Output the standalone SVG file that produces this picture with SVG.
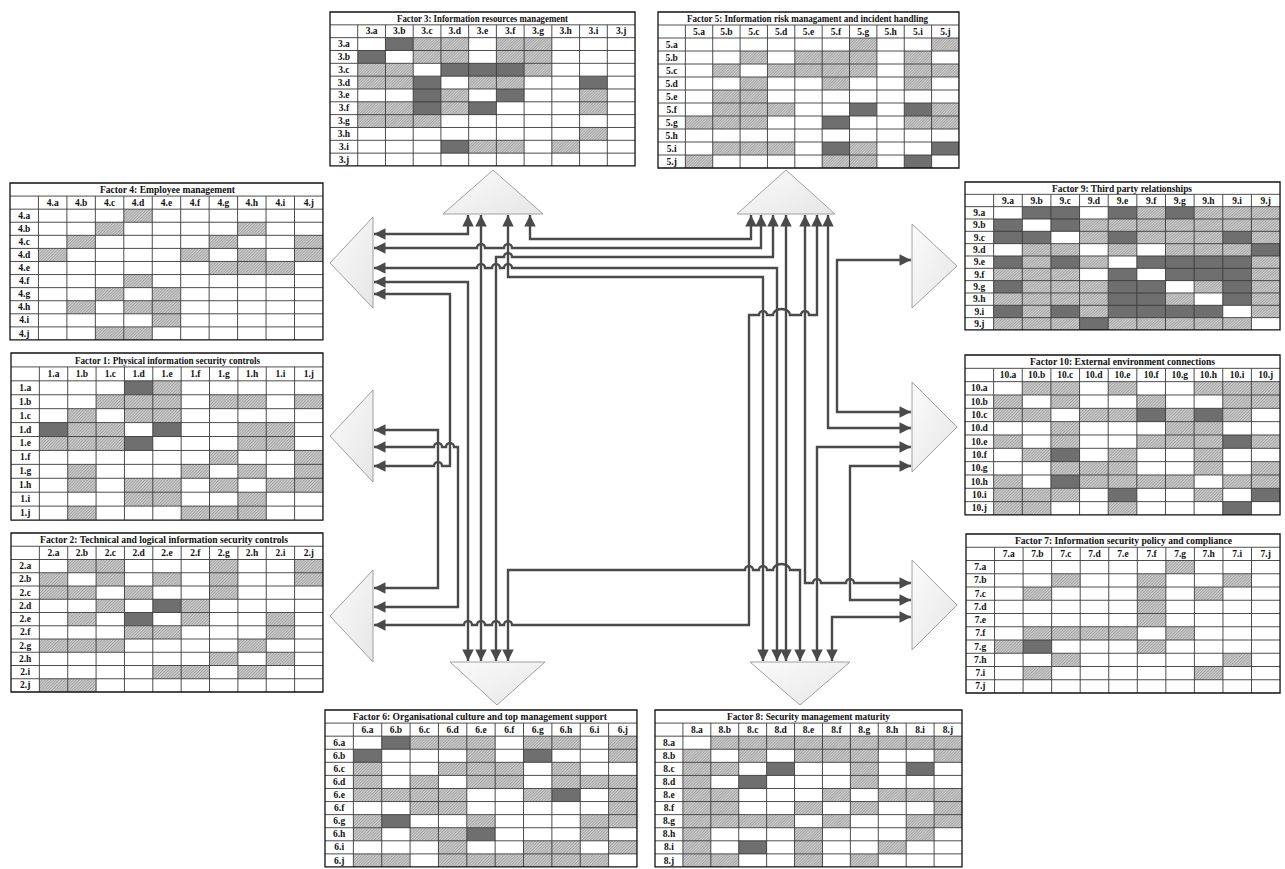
<svg xmlns="http://www.w3.org/2000/svg" width="1285" height="869" viewBox="0 0 1285 869">
<style>
.tt{font-family:"Liberation Serif","Times New Roman",serif;font-weight:bold;font-size:10.5px;text-anchor:middle;dominant-baseline:central;fill:#111}
.lb text{font-family:"Liberation Serif","Times New Roman",serif;font-weight:bold;font-size:9.5px;text-anchor:middle;dominant-baseline:central;fill:#111}
.h{fill:url(#hp)}
.d{fill:#6f6f6f}
.tri{fill:url(#tg);stroke:#a0a0a0;stroke-width:1}
.cn{fill:none;stroke:#4a4a4a;stroke-width:2.4;marker-start:url(#ah);marker-end:url(#ah)}
</style>
<defs>
<pattern id="hp" patternUnits="userSpaceOnUse" width="2" height="2" patternTransform="scale(0.0355,0.0765) rotate(45)"><rect width="2" height="2" fill="#cdcdcd"/><rect width="0.9" height="2" fill="#a2a2a2"/></pattern>
<linearGradient id="tg" x1="0" y1="0" x2="1" y2="1"><stop offset="0" stop-color="#fbfbfb"/><stop offset="1" stop-color="#e6e6e6"/></linearGradient>
<marker id="ah" viewBox="0 0 10 10" refX="10" refY="5" markerWidth="4.8" markerHeight="4.8" orient="auto-start-reverse"><path d="M0 0L10 5L0 10z" fill="#4a4a4a"/></marker>
<g id="grid"><path d="M0 1H11M0 2H11M0 3H11M0 4H11M0 5H11M0 6H11M0 7H11M0 8H11M0 9H11M0 10H11M0 11H11M1 1V12M2 1V12M3 1V12M4 1V12M5 1V12M6 1V12M7 1V12M8 1V12M9 1V12M10 1V12" fill="none" stroke="#3a3a3a" stroke-width="0.9" vector-effect="non-scaling-stroke"/><rect width="11" height="12" fill="none" stroke="#111" stroke-width="1.3" vector-effect="non-scaling-stroke"/></g>
</defs>
<rect width="1285" height="869" fill="#fff"/>

<g id="factor-3">
<g transform="translate(330 12) scale(27.73 12.83)"><rect width="11" height="12" fill="#fff"/>
<path class="h" d="M3 2h2v1h-2zM6 2h2v1h-2zM3 3h2v1h-2zM6 3h2v1h-2zM1 4h2v1h-2zM7 4h1v1h-1zM1 5h2v1h-2zM5 5h2v1h-2zM4 6h1v1h-1zM9 6h1v1h-1zM1 7h2v1h-2zM4 7h1v1h-1zM9 7h1v1h-1zM1 8h3v1h-3zM9 9h1v1h-1zM5 10h2v1h-2zM8 10h1v1h-1z"/>
<path class="d" d="M2 2h1v1h-1zM1 3h1v1h-1zM4 4h3v1h-3zM3 5h1v1h-1zM9 5h1v1h-1zM3 6h1v1h-1zM6 6h1v1h-1zM3 7h1v1h-1zM5 7h1v1h-1zM4 10h1v1h-1z"/>
<use href="#grid"/></g>
<text class="tt" x="482.5" y="18.4" textLength="171" lengthAdjust="spacingAndGlyphs">Factor 3: Information resources management</text>
<g class="lb"><text x="371.6" y="31.2">3.a</text><text x="399.3" y="31.2">3.b</text><text x="427" y="31.2">3.c</text><text x="454.8" y="31.2">3.d</text><text x="482.5" y="31.2">3.e</text><text x="510.2" y="31.2">3.f</text><text x="538" y="31.2">3.g</text><text x="565.7" y="31.2">3.h</text><text x="593.4" y="31.2">3.i</text><text x="621.2" y="31.2">3.j</text>
<text x="343.9" y="44.1">3.a</text><text x="343.9" y="56.9">3.b</text><text x="343.9" y="69.7">3.c</text><text x="343.9" y="82.6">3.d</text><text x="343.9" y="95.4">3.e</text><text x="343.9" y="108.2">3.f</text><text x="343.9" y="121">3.g</text><text x="343.9" y="133.9">3.h</text><text x="343.9" y="146.7">3.i</text><text x="343.9" y="159.5">3.j</text></g>
</g>

<g id="factor-5">
<g transform="translate(658 12) scale(27.36 13)"><rect width="11" height="12" fill="#fff"/>
<path class="h" d="M7 2h1v1h-1zM10 2h1v1h-1zM3 3h1v1h-1zM5 3h3v1h-3zM9 3h1v1h-1zM2 4h1v1h-1zM4 4h4v1h-4zM9 4h2v1h-2zM3 5h1v1h-1zM6 5h1v1h-1zM9 5h1v1h-1zM2 6h2v1h-2zM2 7h3v1h-3zM10 7h1v1h-1zM1 8h3v1h-3zM9 8h2v1h-2zM2 10h3v1h-3zM7 10h1v1h-1zM1 11h1v1h-1zM6 11h2v1h-2z"/>
<path class="d" d="M7 7h1v1h-1zM9 7h1v1h-1zM6 8h1v1h-1zM6 10h1v1h-1zM10 10h1v1h-1zM9 11h1v1h-1z"/>
<use href="#grid"/></g>
<text class="tt" x="807.5" y="18.5" textLength="241" lengthAdjust="spacingAndGlyphs">Factor 5: Information risk managament and incident handling</text>
<g class="lb"><text x="699" y="31.5">5.a</text><text x="726.4" y="31.5">5.b</text><text x="753.8" y="31.5">5.c</text><text x="781.2" y="31.5">5.d</text><text x="808.5" y="31.5">5.e</text><text x="835.9" y="31.5">5.f</text><text x="863.3" y="31.5">5.g</text><text x="890.6" y="31.5">5.h</text><text x="918" y="31.5">5.i</text><text x="945.4" y="31.5">5.j</text>
<text x="671.7" y="44.5">5.a</text><text x="671.7" y="57.5">5.b</text><text x="671.7" y="70.5">5.c</text><text x="671.7" y="83.5">5.d</text><text x="671.7" y="96.5">5.e</text><text x="671.7" y="109.5">5.f</text><text x="671.7" y="122.5">5.g</text><text x="671.7" y="135.5">5.h</text><text x="671.7" y="148.5">5.i</text><text x="671.7" y="161.5">5.j</text></g>
</g>

<g id="factor-4">
<g transform="translate(10 183) scale(28.45 13.08)"><rect width="11" height="12" fill="#fff"/>
<path class="h" d="M4 2h1v1h-1zM3 3h1v1h-1zM8 3h1v1h-1zM2 4h1v1h-1zM7 4h1v1h-1zM10 4h1v1h-1zM1 5h1v1h-1zM6 5h1v1h-1zM8 5h1v1h-1zM10 5h1v1h-1zM7 6h3v1h-3zM4 7h1v1h-1zM3 8h1v1h-1zM5 8h1v1h-1zM2 9h1v1h-1zM4 9h2v1h-2zM5 10h1v1h-1zM3 11h2v1h-2z"/>
<use href="#grid"/></g>
<text class="tt" x="167.5" y="189.5" textLength="135" lengthAdjust="spacingAndGlyphs">Factor 4: Employee management</text>
<g class="lb"><text x="52.7" y="202.6">4.a</text><text x="81.1" y="202.6">4.b</text><text x="109.6" y="202.6">4.c</text><text x="138" y="202.6">4.d</text><text x="166.5" y="202.6">4.e</text><text x="194.9" y="202.6">4.f</text><text x="223.4" y="202.6">4.g</text><text x="251.8" y="202.6">4.h</text><text x="280.3" y="202.6">4.i</text><text x="308.8" y="202.6">4.j</text>
<text x="24.2" y="215.7">4.a</text><text x="24.2" y="228.8">4.b</text><text x="24.2" y="241.9">4.c</text><text x="24.2" y="255">4.d</text><text x="24.2" y="268.1">4.e</text><text x="24.2" y="281.1">4.f</text><text x="24.2" y="294.2">4.g</text><text x="24.2" y="307.3">4.h</text><text x="24.2" y="320.4">4.i</text><text x="24.2" y="333.5">4.j</text></g>
</g>

<g id="factor-1">
<g transform="translate(11 353) scale(28.36 13.92)"><rect width="11" height="12" fill="#fff"/>
<path class="h" d="M5 2h1v1h-1zM3 3h3v1h-3zM7 3h2v1h-2zM10 3h1v1h-1zM2 4h1v1h-1zM4 4h2v1h-2zM2 5h2v1h-2zM8 5h2v1h-2zM1 6h3v1h-3zM8 6h2v1h-2zM7 7h1v1h-1zM10 7h1v1h-1zM2 8h1v1h-1zM6 8h1v1h-1zM8 8h1v1h-1zM10 8h1v1h-1zM2 9h1v1h-1zM4 9h2v1h-2zM7 9h1v1h-1zM9 9h2v1h-2zM4 10h2v1h-2zM8 10h1v1h-1zM2 11h1v1h-1zM6 11h3v1h-3z"/>
<path class="d" d="M4 2h1v1h-1zM1 5h1v1h-1zM5 5h1v1h-1zM4 6h1v1h-1z"/>
<use href="#grid"/></g>
<text class="tt" x="167.5" y="360" textLength="185" lengthAdjust="spacingAndGlyphs">Factor 1: Physical information security controls</text>
<g class="lb"><text x="53.5" y="373.9">1.a</text><text x="81.9" y="373.9">1.b</text><text x="110.3" y="373.9">1.c</text><text x="138.6" y="373.9">1.d</text><text x="167" y="373.9">1.e</text><text x="195.3" y="373.9">1.f</text><text x="223.7" y="373.9">1.g</text><text x="252" y="373.9">1.h</text><text x="280.4" y="373.9">1.i</text><text x="308.8" y="373.9">1.j</text>
<text x="25.2" y="387.8">1.a</text><text x="25.2" y="401.7">1.b</text><text x="25.2" y="415.6">1.c</text><text x="25.2" y="429.5">1.d</text><text x="25.2" y="443.4">1.e</text><text x="25.2" y="457.4">1.f</text><text x="25.2" y="471.3">1.g</text><text x="25.2" y="485.2">1.h</text><text x="25.2" y="499.1">1.i</text><text x="25.2" y="513">1.j</text></g>
</g>

<g id="factor-2">
<g transform="translate(11 533) scale(28.36 13.25)"><rect width="11" height="12" fill="#fff"/>
<path class="h" d="M2 2h2v1h-2zM7 2h1v1h-1zM10 2h1v1h-1zM1 3h1v1h-1zM3 3h1v1h-1zM5 3h1v1h-1zM7 3h1v1h-1zM10 3h1v1h-1zM1 4h2v1h-2zM4 4h1v1h-1zM7 4h1v1h-1zM3 5h1v1h-1zM6 5h1v1h-1zM2 6h1v1h-1zM6 6h1v1h-1zM9 6h1v1h-1zM4 7h2v1h-2zM9 7h1v1h-1zM1 8h3v1h-3zM8 8h1v1h-1zM7 9h1v1h-1zM9 9h1v1h-1zM5 10h2v1h-2zM8 10h1v1h-1zM1 11h2v1h-2z"/>
<path class="d" d="M5 5h1v1h-1zM4 6h1v1h-1z"/>
<use href="#grid"/></g>
<text class="tt" x="164" y="539.6" textLength="248" lengthAdjust="spacingAndGlyphs">Factor 2: Technical and logical information security controls</text>
<g class="lb"><text x="53.5" y="552.9">2.a</text><text x="81.9" y="552.9">2.b</text><text x="110.3" y="552.9">2.c</text><text x="138.6" y="552.9">2.d</text><text x="167" y="552.9">2.e</text><text x="195.3" y="552.9">2.f</text><text x="223.7" y="552.9">2.g</text><text x="252" y="552.9">2.h</text><text x="280.4" y="552.9">2.i</text><text x="308.8" y="552.9">2.j</text>
<text x="25.2" y="566.1">2.a</text><text x="25.2" y="579.4">2.b</text><text x="25.2" y="592.6">2.c</text><text x="25.2" y="605.9">2.d</text><text x="25.2" y="619.1">2.e</text><text x="25.2" y="632.4">2.f</text><text x="25.2" y="645.6">2.g</text><text x="25.2" y="658.9">2.h</text><text x="25.2" y="672.1">2.i</text><text x="25.2" y="685.4">2.j</text></g>
</g>

<g id="factor-9">
<g transform="translate(965 182) scale(28.64 12.33)"><rect width="11" height="12" fill="#fff"/>
<path class="h" d="M6 2h1v1h-1zM8 2h3v1h-3zM4 3h7v1h-7zM4 4h1v1h-1zM6 4h3v1h-3zM10 4h1v1h-1zM2 5h2v1h-2zM5 5h1v1h-1zM7 5h3v1h-3zM2 6h1v1h-1zM4 6h1v1h-1zM10 6h1v1h-1zM1 7h3v1h-3zM10 7h1v1h-1zM2 8h3v1h-3zM8 8h1v1h-1zM10 8h1v1h-1zM1 9h4v1h-4zM7 9h1v1h-1zM10 9h1v1h-1zM2 10h1v1h-1zM4 10h1v1h-1zM10 10h1v1h-1zM1 11h3v1h-3zM5 11h5v1h-5z"/>
<path class="d" d="M2 2h2v1h-2zM5 2h1v1h-1zM7 2h1v1h-1zM1 3h1v1h-1zM3 3h1v1h-1zM1 4h2v1h-2zM5 4h1v1h-1zM9 4h1v1h-1zM10 5h1v1h-1zM1 6h1v1h-1zM3 6h1v1h-1zM6 6h4v1h-4zM5 7h1v1h-1zM7 7h3v1h-3zM1 8h1v1h-1zM5 8h2v1h-2zM9 8h1v1h-1zM5 9h2v1h-2zM9 9h1v1h-1zM1 10h1v1h-1zM3 10h1v1h-1zM5 10h4v1h-4zM4 11h1v1h-1z"/>
<use href="#grid"/></g>
<text class="tt" x="1122" y="188.2" textLength="140" lengthAdjust="spacingAndGlyphs">Factor 9: Third party relationships</text>
<g class="lb"><text x="1008" y="200.5">9.a</text><text x="1036.6" y="200.5">9.b</text><text x="1065.2" y="200.5">9.c</text><text x="1093.9" y="200.5">9.d</text><text x="1122.5" y="200.5">9.e</text><text x="1151.2" y="200.5">9.f</text><text x="1179.8" y="200.5">9.g</text><text x="1208.4" y="200.5">9.h</text><text x="1237.1" y="200.5">9.i</text><text x="1265.7" y="200.5">9.j</text>
<text x="979.3" y="212.8">9.a</text><text x="979.3" y="225.2">9.b</text><text x="979.3" y="237.5">9.c</text><text x="979.3" y="249.8">9.d</text><text x="979.3" y="262.2">9.e</text><text x="979.3" y="274.5">9.f</text><text x="979.3" y="286.8">9.g</text><text x="979.3" y="299.1">9.h</text><text x="979.3" y="311.5">9.i</text><text x="979.3" y="323.8">9.j</text></g>
</g>

<g id="factor-10">
<g transform="translate(965 355) scale(28.64 13.33)"><rect width="11" height="12" fill="#fff"/>
<path class="h" d="M2 2h2v1h-2zM5 2h1v1h-1zM8 2h3v1h-3zM1 3h1v1h-1zM3 3h1v1h-1zM6 3h1v1h-1zM9 3h2v1h-2zM1 4h2v1h-2zM4 4h2v1h-2zM7 4h1v1h-1zM9 4h1v1h-1zM3 5h1v1h-1zM7 5h2v1h-2zM1 6h1v1h-1zM3 6h1v1h-1zM6 6h3v1h-3zM10 6h1v1h-1zM2 7h1v1h-1zM5 7h1v1h-1zM8 7h1v1h-1zM3 8h3v1h-3zM8 8h1v1h-1zM10 8h1v1h-1zM1 9h1v1h-1zM4 9h4v1h-4zM9 9h2v1h-2zM1 10h3v1h-3zM8 10h1v1h-1zM1 11h2v1h-2zM5 11h1v1h-1z"/>
<path class="d" d="M6 4h1v1h-1zM8 4h1v1h-1zM9 6h1v1h-1zM3 7h1v1h-1zM3 9h1v1h-1zM5 10h1v1h-1zM10 10h1v1h-1zM9 11h1v1h-1z"/>
<use href="#grid"/></g>
<text class="tt" x="1122.5" y="361.7" textLength="185" lengthAdjust="spacingAndGlyphs">Factor 10: External environment connections</text>
<g class="lb"><text x="1008" y="375">10.a</text><text x="1036.6" y="375">10.b</text><text x="1065.2" y="375">10.c</text><text x="1093.9" y="375">10.d</text><text x="1122.5" y="375">10.e</text><text x="1151.2" y="375">10.f</text><text x="1179.8" y="375">10.g</text><text x="1208.4" y="375">10.h</text><text x="1237.1" y="375">10.i</text><text x="1265.7" y="375">10.j</text>
<text x="979.3" y="388.3">10.a</text><text x="979.3" y="401.7">10.b</text><text x="979.3" y="415">10.c</text><text x="979.3" y="428.3">10.d</text><text x="979.3" y="441.6">10.e</text><text x="979.3" y="455">10.f</text><text x="979.3" y="468.3">10.g</text><text x="979.3" y="481.6">10.h</text><text x="979.3" y="494.9">10.i</text><text x="979.3" y="508.3">10.j</text></g>
</g>

<g id="factor-7">
<g transform="translate(966 534) scale(28.55 13.25)"><rect width="11" height="12" fill="#fff"/>
<path class="h" d="M7 2h1v1h-1zM3 3h1v1h-1zM6 3h1v1h-1zM9 3h1v1h-1zM2 4h1v1h-1zM6 4h1v1h-1zM8 4h1v1h-1zM6 5h1v1h-1zM6 6h1v1h-1zM2 7h4v1h-4zM7 7h1v1h-1zM1 8h1v1h-1zM6 8h1v1h-1zM3 9h1v1h-1zM9 9h1v1h-1zM2 10h1v1h-1zM8 10h1v1h-1z"/>
<path class="d" d="M2 8h1v1h-1z"/>
<use href="#grid"/></g>
<text class="tt" x="1123.5" y="540.6" textLength="217" lengthAdjust="spacingAndGlyphs">Factor 7: Information security policy and compliance</text>
<g class="lb"><text x="1008.8" y="553.9">7.a</text><text x="1037.4" y="553.9">7.b</text><text x="1065.9" y="553.9">7.c</text><text x="1094.5" y="553.9">7.d</text><text x="1123" y="553.9">7.e</text><text x="1151.6" y="553.9">7.f</text><text x="1180.1" y="553.9">7.g</text><text x="1208.7" y="553.9">7.h</text><text x="1237.2" y="553.9">7.i</text><text x="1265.7" y="553.9">7.j</text>
<text x="980.3" y="567.1">7.a</text><text x="980.3" y="580.4">7.b</text><text x="980.3" y="593.6">7.c</text><text x="980.3" y="606.9">7.d</text><text x="980.3" y="620.1">7.e</text><text x="980.3" y="633.4">7.f</text><text x="980.3" y="646.6">7.g</text><text x="980.3" y="659.9">7.h</text><text x="980.3" y="673.1">7.i</text><text x="980.3" y="686.4">7.j</text></g>
</g>

<g id="factor-6">
<g transform="translate(325 710) scale(28.36 13.08)"><rect width="11" height="12" fill="#fff"/>
<path class="h" d="M3 2h3v1h-3zM7 2h2v1h-2zM10 2h1v1h-1zM5 3h1v1h-1zM10 3h1v1h-1zM1 4h1v1h-1zM4 4h3v1h-3zM8 4h1v1h-1zM1 5h1v1h-1zM3 5h1v1h-1zM5 5h2v1h-2zM8 5h3v1h-3zM1 6h4v1h-4zM7 6h1v1h-1zM10 6h1v1h-1zM3 7h2v1h-2zM10 7h1v1h-1zM1 8h1v1h-1zM5 8h1v1h-1zM9 8h2v1h-2zM1 9h1v1h-1zM3 9h2v1h-2zM9 9h1v1h-1zM4 10h1v1h-1zM7 10h2v1h-2zM10 10h1v1h-1zM1 11h2v1h-2zM4 11h6v1h-6z"/>
<path class="d" d="M2 2h1v1h-1zM1 3h1v1h-1zM7 3h1v1h-1zM8 6h1v1h-1zM2 8h1v1h-1zM5 9h1v1h-1z"/>
<use href="#grid"/></g>
<text class="tt" x="480" y="716.5" textLength="254" lengthAdjust="spacingAndGlyphs">Factor 6: Organisational culture and top management support</text>
<g class="lb"><text x="367.5" y="729.6">6.a</text><text x="395.9" y="729.6">6.b</text><text x="424.3" y="729.6">6.c</text><text x="452.6" y="729.6">6.d</text><text x="481" y="729.6">6.e</text><text x="509.3" y="729.6">6.f</text><text x="537.7" y="729.6">6.g</text><text x="566" y="729.6">6.h</text><text x="594.4" y="729.6">6.i</text><text x="622.8" y="729.6">6.j</text>
<text x="339.2" y="742.7">6.a</text><text x="339.2" y="755.8">6.b</text><text x="339.2" y="768.9">6.c</text><text x="339.2" y="782">6.d</text><text x="339.2" y="795.1">6.e</text><text x="339.2" y="808.1">6.f</text><text x="339.2" y="821.2">6.g</text><text x="339.2" y="834.3">6.h</text><text x="339.2" y="847.4">6.i</text><text x="339.2" y="860.5">6.j</text></g>
</g>

<g id="factor-8">
<g transform="translate(655 710) scale(27.91 13.08)"><rect width="11" height="12" fill="#fff"/>
<path class="h" d="M2 2h9v1h-9zM1 3h1v1h-1zM3 3h1v1h-1zM5 3h3v1h-3zM10 3h1v1h-1zM1 4h2v1h-2zM7 4h1v1h-1zM1 5h1v1h-1zM7 5h1v1h-1zM1 6h2v1h-2zM6 6h1v1h-1zM8 6h3v1h-3zM1 7h2v1h-2zM5 7h1v1h-1zM7 7h1v1h-1zM10 7h1v1h-1zM1 8h4v1h-4zM6 8h1v1h-1zM9 8h2v1h-2zM1 9h1v1h-1zM5 9h1v1h-1zM9 9h1v1h-1zM1 10h1v1h-1zM5 10h1v1h-1zM8 10h1v1h-1zM1 11h2v1h-2zM5 11h1v1h-1zM7 11h1v1h-1z"/>
<path class="d" d="M4 4h1v1h-1zM9 4h1v1h-1zM3 5h1v1h-1zM3 10h1v1h-1z"/>
<use href="#grid"/></g>
<text class="tt" x="808.5" y="716.5" textLength="163" lengthAdjust="spacingAndGlyphs">Factor 8: Security management maturity</text>
<g class="lb"><text x="696.9" y="729.6">8.a</text><text x="724.8" y="729.6">8.b</text><text x="752.7" y="729.6">8.c</text><text x="780.6" y="729.6">8.d</text><text x="808.5" y="729.6">8.e</text><text x="836.4" y="729.6">8.f</text><text x="864.3" y="729.6">8.g</text><text x="892.2" y="729.6">8.h</text><text x="920.1" y="729.6">8.i</text><text x="948" y="729.6">8.j</text>
<text x="669" y="742.7">8.a</text><text x="669" y="755.8">8.b</text><text x="669" y="768.9">8.c</text><text x="669" y="782">8.d</text><text x="669" y="795.1">8.e</text><text x="669" y="808.1">8.f</text><text x="669" y="821.2">8.g</text><text x="669" y="834.3">8.h</text><text x="669" y="847.4">8.i</text><text x="669" y="860.5">8.j</text></g>
</g>

<g id="triangle-3"><polygon class="tri" points="493,170 443,214 543,214"/></g>
<g id="triangle-5"><polygon class="tri" points="786,170 737,214 835,214"/></g>
<g id="triangle-4"><polygon class="tri" points="330,263 373,217 373,308"/></g>
<g id="triangle-1"><polygon class="tri" points="330,436 373,390 373,482"/></g>
<g id="triangle-2"><polygon class="tri" points="330,616 373,570 373,662"/></g>
<g id="triangle-9"><polygon class="tri" points="957,266 912,224 912,308"/></g>
<g id="triangle-10"><polygon class="tri" points="957,427 912,382 912,472"/></g>
<g id="triangle-7"><polygon class="tri" points="957,605 912,560 912,650"/></g>
<g id="triangle-6"><polygon class="tri" points="497,705 450,662 545,662"/></g>
<g id="triangle-8"><polygon class="tri" points="800,705 750,662 850,662"/></g>

<g id="connectors">
<path class="cn" d="M468 215V234H374"/>
<path class="cn" d="M530 215V239H751V215"/>
<path class="cn" d="M374 248H477a4 4 0 0 1 8 0H504a4 4 0 0 1 8 0H761V215"/>
<path class="cn" d="M496 661V257H504a4 4 0 0 1 8 0H773V215"/>
<path class="cn" d="M374 268H477a4 4 0 0 1 8 0H492a4 4 0 0 1 8 0H504a4 4 0 0 1 8 0H777V661"/>
<path class="cn" d="M508 215V277H763V661"/>
<path class="cn" d="M374 282H468V661"/>
<path class="cn" d="M374 294H450V466H442a4 4 0 0 0 -8 0H374"/>
<path class="cn" d="M481 215V661"/>
<path class="cn" d="M786 215V661"/>
<path class="cn" d="M805 215V583H813a4 4 0 0 1 8 0H846a4 4 0 0 1 8 0H911"/>
<path class="cn" d="M817 215V315H809a4 4 0 0 0 -8 0H790a8.5 6 0 0 0 -17 0H767a4 4 0 0 0 -8 0H749V625H512a4 4 0 0 0 -8 0H500a4 4 0 0 0 -8 0H485a4 4 0 0 0 -8 0H472a4 4 0 0 0 -8 0H374"/>
<path class="cn" d="M828 215V428H911"/>
<path class="cn" d="M911 260H837V412H911"/>
<path class="cn" d="M374 430H438V588H374"/>
<path class="cn" d="M374 447H434a4 4 0 0 1 8 0H446a4 4 0 0 1 8 0H458V607H374"/>
<path class="cn" d="M508 661V570H745a4 4 0 0 1 8 0H759a4 4 0 0 1 8 0H773a8.5 6 0 0 1 17 0H800V661"/>
<path class="cn" d="M911 447H817V661"/>
<path class="cn" d="M911 466H850V600H911"/>
<path class="cn" d="M911 617H832V661"/>
</g>
</svg>
